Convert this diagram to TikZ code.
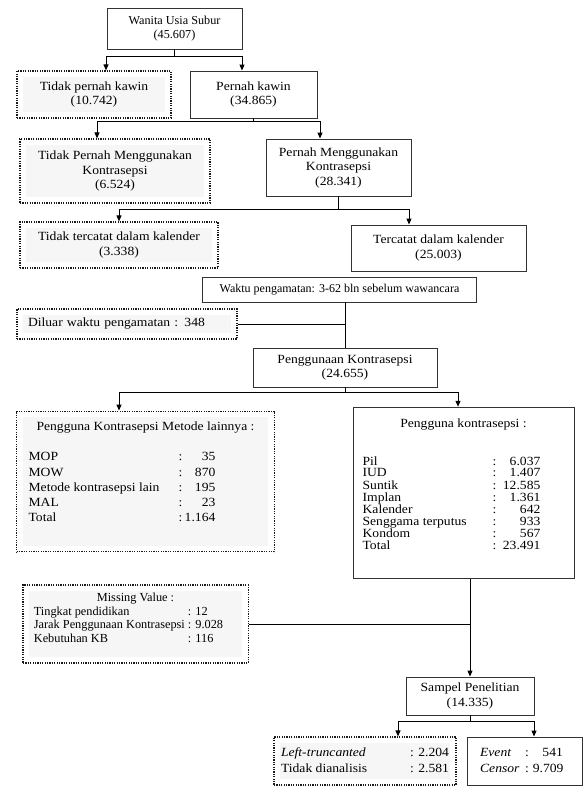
\documentclass[tikz,border=0pt]{standalone}
\usepackage{fontspec}
\setmainfont{Liberation Serif}[FakeStretch=1.09]
\newfontfamily\narrowrm{Liberation Serif}
\usepackage{array}
\usepackage{tikz}
\usetikzlibrary{arrows.meta}

\begin{document}
\begin{tikzpicture}[x=1pt, y=-1pt,
  box/.style={draw=black!80, line width=0.9pt, align=center, inner sep=3pt,
              font=\fontsize{12.5}{14.5}\selectfont},
  dbox/.style={box, draw=black!90, line width=1.2pt, dash pattern=on 1.2pt off 1.2pt,
               path picture={\fill[gray!7]
                 ([xshift=6pt,yshift=-6pt]path picture bounding box.north west) rectangle
                 ([xshift=-6pt,yshift=6pt]path picture bounding box.south east);}},
  arr/.style={-{Triangle[length=6pt,width=5pt]}, line width=1pt},
  con/.style={line width=1pt}
]
  \useasboundingbox (0,0) rectangle (583,786);

  % Top tier
  \node[box, font=\narrowrm\fontsize{12.2}{14.5}\selectfont, minimum width=135pt, minimum height=41pt]
        (wus) at (174.5,28.5) {Wanita Usia Subur\\(45.607)};
  \node[dbox, minimum width=154pt, minimum height=47pt] (tpk) at (94,94.5) {Tidak pernah kawin\\(10.742)};
  \node[box,  minimum width=127pt, minimum height=47pt] (pk)  at (253.5,94.5) {Pernah kawin\\(34.865)};

  \node[dbox, minimum width=190pt, minimum height=64pt] (tpmk) at (115,171)
        {Tidak Pernah Menggunakan\\Kontrasepsi\\(6.524)};
  \node[box,  minimum width=145pt, minimum height=57pt] (pmk)  at (338.5,167.5)
        {Pernah Menggunakan\\Kontrasepsi\\(28.341)};

  \node[dbox, minimum width=198pt, minimum height=46pt] (ttk) at (119,245) {Tidak tercatat dalam kalender\\(3.338)};
  \node[box,  minimum width=175pt, minimum height=46pt] (tk)  at (438.5,248) {Tercatat dalam kalender\\(25.003)};

  % Observation window
  \node[box, font=\narrowrm\fontsize{12}{14.5}\selectfont, minimum width=274pt, minimum height=25pt]
        (waktu) at (339.5,289.5) {Waktu pengamatan: 3-62 bln sebelum wawancara};
  \node[dbox, align=left, text width=198pt, inner xsep=11pt, minimum height=30pt]
        (diluar) at (127,324) {Diluar waktu pengamatan : 348};
  \node[box, minimum width=184pt, minimum height=39pt] (pkon) at (345,367.5) {Penggunaan Kontrasepsi\\(24.655)};

  % Method lists
  \node[dbox, inner xsep=12pt, inner ysep=8.3pt] (metode) at (145.5,481.5) {\fontsize{12.5}{15.3}\selectfont
    \begin{tabular}{@{}p{150pt}@{}c@{}>{\raggedleft\arraybackslash}p{33pt}@{}p{47pt}@{}}
      \multicolumn{4}{c}{Pengguna Kontrasepsi Metode lainnya :}\\
      &&&\\
      MOP & : & 35 &\\
      MOW & : & 870 &\\
      Metode kontrasepsi lain & : & 195 &\\
      MAL & : & 23 &\\
      Total & : & 1.164 &\\[17pt]
    \end{tabular}};
  \node[box, inner xsep=9.6pt, inner ysep=11.8pt] (pkk) at (463.5,493) {\fontsize{12.5}{11.7}\selectfont
    \begin{tabular}{@{}p{130pt}@{}c@{}>{\raggedleft\arraybackslash}p{44pt}@{}p{24pt}@{}}
      \multicolumn{4}{c}{Pengguna kontrasepsi :}\\[25.3pt]
      Pil & : & 6.037 &\\
      IUD & : & 1.407 &\\
      Suntik & : & 12.585 &\\
      Implan & : & 1.361 &\\
      Kalender & : & 642 &\\
      Senggama terputus & : & 933 &\\
      Kondom & : & 567 &\\
      Total & : & 23.491 &\\[13.8pt]
    \end{tabular}};

  % Missing values
  \node[dbox, font=\narrowrm, inner xsep=11pt, inner ysep=7.5pt] (miss) at (135.5,624) {\fontsize{12.3}{13.5}\selectfont
    \begin{tabular}{@{}p{154pt}@{}l@{}p{14pt}@{}}
      \multicolumn{3}{c}{Missing Value :}\\
      Tingkat pendidikan & : 12 &\\
      Jarak Penggunaan Kontrasepsi & : 9.028 &\\
      Kebutuhan KB & : 116 &\\[9pt]
    \end{tabular}};

  % Sample
  \node[box, minimum width=128pt, minimum height=38pt] (sampel) at (470,696) {Sampel Penelitian\\(14.335)};
  \node[dbox, inner xsep=7pt, minimum width=176pt, minimum height=48pt] (lt) at (365,761) {\fontsize{12.5}{16}\selectfont
    \begin{tabular}{@{}p{129pt}@{}l@{}}
      \textit{Left-truncanted} & : 2.204\\
      Tidak dianalisis & : 2.581
    \end{tabular}};
  \node[box, minimum width=115pt, minimum height=48pt] (ev) at (524.5,761) {\fontsize{12.5}{16}\selectfont
    \begin{tabular}{@{}p{45pt}@{}c@{\hspace{4pt}}>{\raggedleft\arraybackslash}p{30pt}@{\hspace{6pt}}}
      \textit{Event} & : & 541\\
      \textit{Censor} & : & 9.709
    \end{tabular}};

  % Branch points
  \coordinate (j1) at (174.5,57);
  \coordinate (j2) at (253.5,122);
  \coordinate (j3) at (338.5,210);
  \coordinate (j4) at (345,392);
  \coordinate (j5) at (470,721);

  % Edges
  \draw[con] (wus.south) -- (j1);
  \draw[arr] (j1) -| ([xshift=12pt]tpk.north);
  \draw[arr] (j1) -| ([xshift=-11.5pt]pk.north);
  \draw[con] (pk.south) -- (j2);
  \draw[arr] (j2) -| ([xshift=-18pt]tpmk.north);
  \draw[arr] (j2) -| ([xshift=-18.5pt]pmk.north);
  \draw[con] (pmk.south) -- (j3);
  \draw[arr] (j3) -| (ttk.north);
  \draw[arr] (j3) -| ([xshift=-29.5pt]tk.north);
  \draw[con] (waktu.south -| pkon.north) -- (pkon.north);
  \draw[con] (diluar.east) -- (diluar.east -| pkon.north);
  \draw[con] (pkon.south) -- (j4);
  \draw[arr] (j4) -| ([xshift=-26.5pt]metode.north);
  \draw[arr] (j4) -| ([xshift=-5.5pt]pkk.north);
  \draw[arr] (pkk.south -| sampel.north) -- (sampel.north);
  \draw[con] (miss.east) -- (miss.east -| sampel.north);
  \draw[con] (sampel.south) -- (j5);
  \draw[arr] (j5) -| ([xshift=33pt]lt.north);
  \draw[arr] (j5) -| ([xshift=9.5pt]ev.north);
\end{tikzpicture}
\end{document}
